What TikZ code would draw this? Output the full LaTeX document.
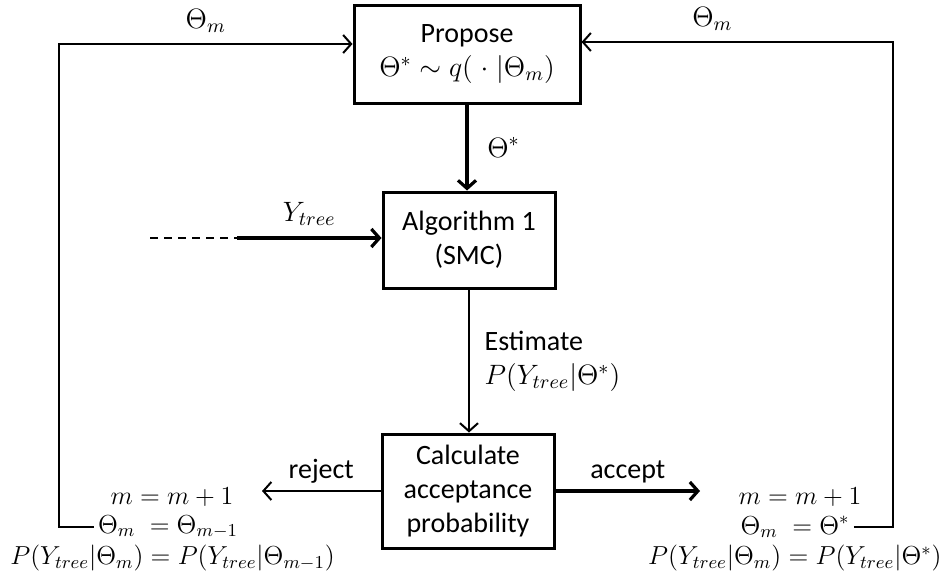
\RequirePackage{fix-cm}
\documentclass[tikz,border=0pt]{standalone}
\usepackage{fontspec}
\setmainfont{Carlito}
\usetikzlibrary{arrows.meta}

\begin{document}
\begin{tikzpicture}[x=0.5pt,y=-0.5pt,>={Straight Barb[length=4pt,width=9pt]}]
				\tikzstyle{every node}=[font=\fontsize{14}{17}\selectfont]
				\tikzstyle{block}=[draw,line width=1.5pt,align=center,inner sep=0pt]
				\tikzstyle{thin}=[line width=1pt]
				\tikzstyle{bold}=[line width=1.6pt]
				\tikzstyle{eq}=[inner xsep=2pt,inner ysep=0pt,font=\fontsize{13}{16}\selectfont]
				\useasboundingbox (0,0) rectangle (948,578);
				\node[block,minimum width=113pt,minimum height=49pt] (propose) at (467,54) {Propose\\ $\Theta^{*}\sim q(\;\cdot\;|\Theta_m)$};
				\node[block,minimum width=86pt,minimum height=48pt] (smc) at (469,240) {Algorithm 1\\(SMC)};
				\node[block,minimum width=86pt,minimum height=57pt] (calc) at (468,491) {Calculate\\acceptance\\probability};
				\node[eq] (rejA) at (172,497) {$m=m+1$};
				\node[eq] (rejB) at (168,527) {$\Theta_m\;=\Theta_{m-1}$};
				\node[eq,anchor=west] (rejC) at (6,558) {$P(Y_{tree}|\Theta_m)=P(Y_{tree}|\Theta_{m-1})$};
				\node[eq] (accA) at (800,497) {$m=m+1$};
				\node[eq] (accB) at (795,527) {$\Theta_m\;=\Theta^{*}$};
				\node[eq,anchor=east] (accC) at (946,558) {$P(Y_{tree}|\Theta_m)=P(Y_{tree}|\Theta^{*})$};
				\coordinate (ystart) at (150,238);
				\coordinate (ymid) at (237,238);
				\coordinate (rejtip) at (262,491);
				\coordinate (acctip) at (700,491);
				\coordinate (lcorner) at (59,44);
				\coordinate (rcorner) at (893,42);
				\draw[->,bold] (propose.south) -- (propose.south |- smc.north) node[midway,right=6pt] {$\Theta^{*}$};
				\draw[thin,dashed,dash pattern=on 4pt off 3pt] (ystart) -- (ymid);
				\draw[->,bold] (ymid) -- (ymid -| smc.west) node[midway,above=2pt] {$Y_{tree}$};
				\draw[->,thin] (smc.south) -- (smc.south |- calc.north) node[midway,right=4pt,align=left] {Estimate\\$P(Y_{tree}|\Theta^{*})$};
				\draw[->,thin] (calc.west) -- (rejtip) node[midway,above=0pt] {reject};
				\draw[->,bold] (calc.east) -- (acctip) node[midway,above=0pt] {accept};
				\draw[->,thin] (rejB.west) -| (lcorner) -- (lcorner -| propose.west) node[midway,above=2pt] {$\Theta_m$};
				\draw[->,thin] (accB.east) -| (rcorner) -- (rcorner -| propose.east) node[pos=0.58,above=2pt] {$\Theta_m$};
\end{tikzpicture}
\end{document}
